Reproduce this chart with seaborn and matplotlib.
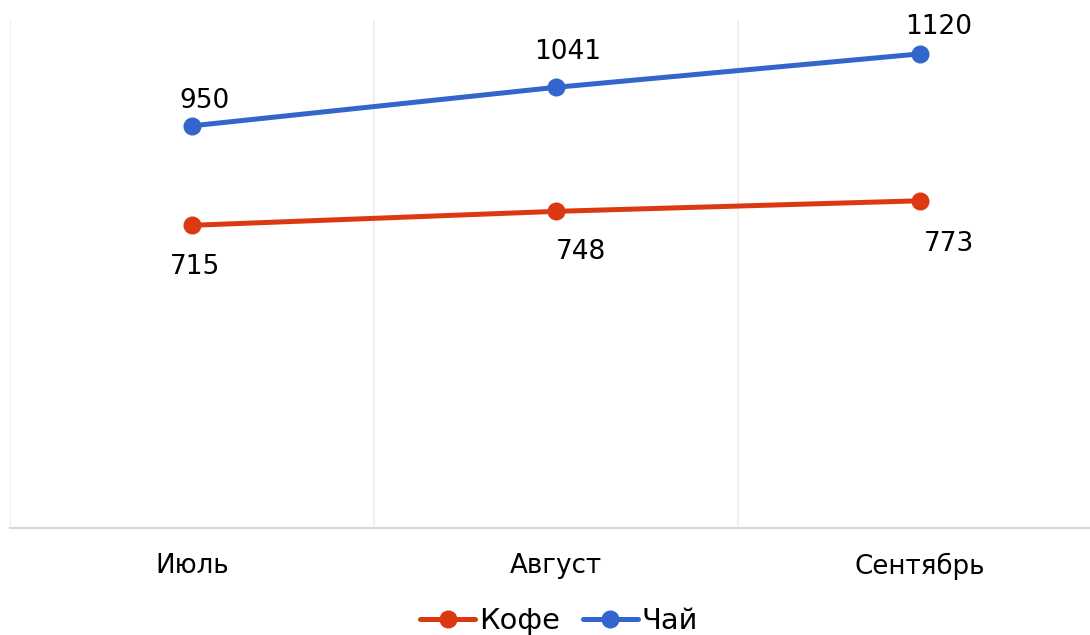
import matplotlib
matplotlib.use("Agg")
import matplotlib.pyplot as plt
from matplotlib.ticker import FixedLocator
import pandas as pd
import seaborn as sns

# Monthly sales of coffee and tea
months = ["Июль", "Август", "Сентябрь"]
coffee = [715, 748, 773]
tea = [950, 1041, 1120]
series_names = ["Кофе", "Чай"]

palette = {"Кофе": "#DC3912", "Чай": "#3366CC"}

df = pd.DataFrame({
    "month": months * 2,
    "value": coffee + tea,
    "series": [series_names[0]] * len(months) + [series_names[1]] * len(months),
})

sns.set_theme(style="white")
plt.rcParams["font.family"] = ["DejaVu Sans"]

DPI = 100
fig = plt.figure(figsize=(10.9, 6.35), dpi=DPI)
ax = fig.add_axes([10 / 1090, 107 / 635, 1092 / 1090, 508 / 635])

sns.lineplot(
    data=df, x="month", y="value", hue="series", palette=palette,
    marker="o", markersize=13, markeredgewidth=0, linewidth=3.6,
    sort=False, ax=ax, legend=False,
)

ax.set_xlim(-0.5, 2.5)
ax.set_ylim(0, 1200)
ax.set_xlabel("")
ax.set_ylabel("")
ax.set_yticks([])
ax.set_xticks(range(len(months)))
ax.set_xticklabels(months, fontsize=18.8, color="black")
ax.tick_params(axis="x", length=0, pad=18)

# vertical separators between categories
ax.xaxis.set_minor_locator(FixedLocator([-0.5, 0.5, 1.5, 2.5]))
ax.tick_params(axis="x", which="minor", length=0)
ax.grid(True, which="minor", axis="x", color="#ececec", linewidth=1.2)
ax.grid(False, which="major")

for side in ["top", "right", "left"]:
    ax.spines[side].set_visible(False)
ax.spines["bottom"].set_color("#d9d9d9")
ax.spines["bottom"].set_linewidth(1.6)

# value labels; offsets in pixels (dx right, dy down)
px = 72.0 / DPI
coffee_offsets = [(3, 42), (25, 41), (29, 43)]
tea_offsets = [(13, -25), (12, -35), (19, -27)]
for i, (c, t) in enumerate(zip(coffee, tea)):
    for val, (dx, dy) in ((c, coffee_offsets[i]), (t, tea_offsets[i])):
        ax.annotate(
            f"{val}", xy=(i, val), xytext=(dx * px, -dy * px),
            textcoords="offset points", ha="center", va="center",
            fontsize=19, color="black",
        )

# legend
handles = [
    plt.Line2D([], [], color=palette[n], marker="o", markersize=13,
               markeredgewidth=0, linewidth=3.6)
    for n in series_names
]
fig.legend(
    handles, series_names, loc="center", bbox_to_anchor=(559 / 1090, 14 / 635),
    ncol=2, frameon=False, fontsize=20.8, handlelength=1.9,
    handletextpad=0.12, columnspacing=0.8, borderaxespad=0,
)
for t in fig.legends[0].get_texts():
    t.set_color("black")

fig.savefig("out.png", dpi=DPI)
